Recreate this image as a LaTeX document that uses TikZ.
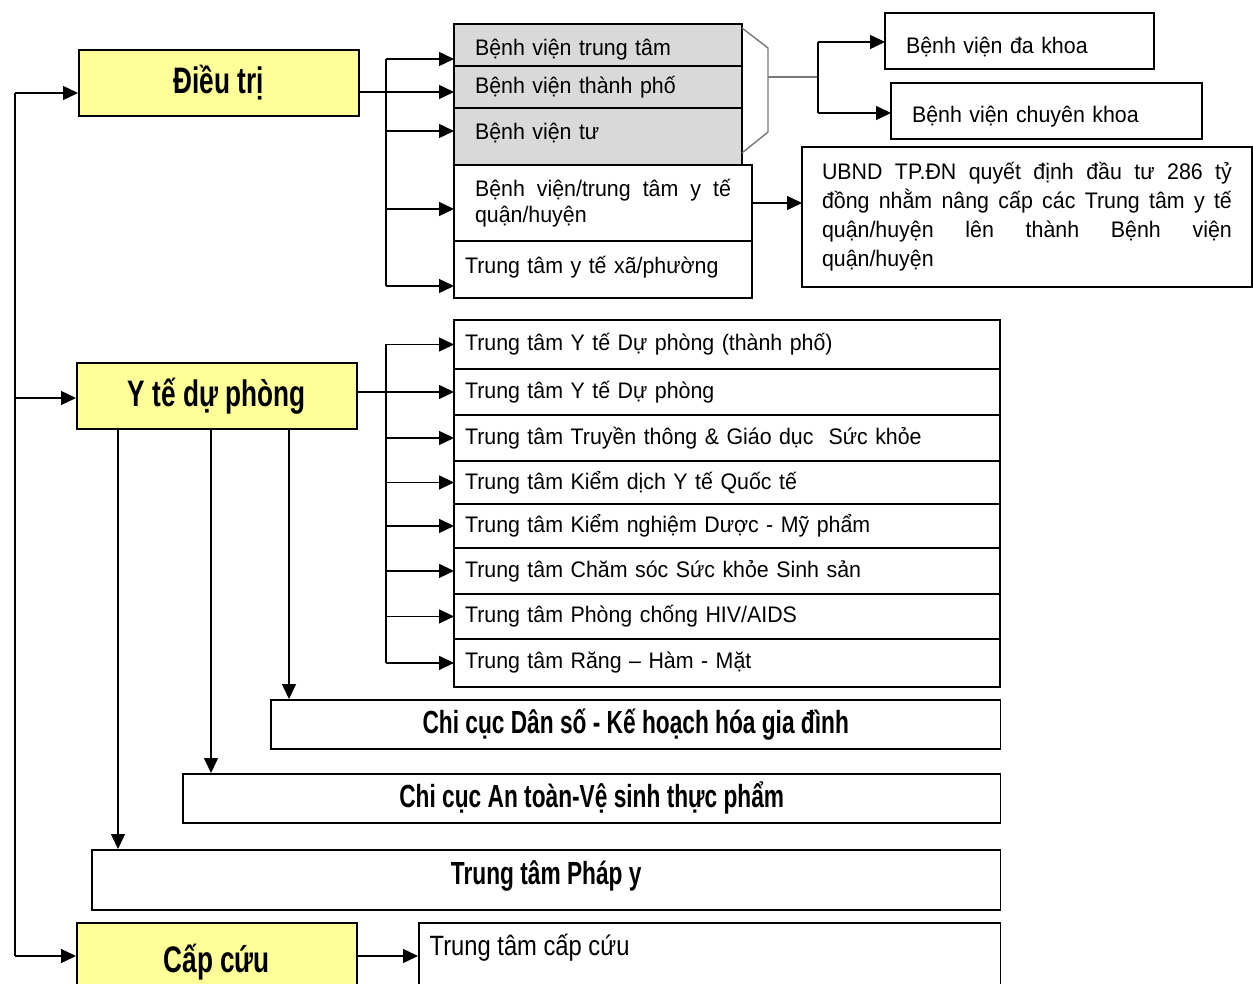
\documentclass[tikz,border=0pt]{standalone}
\usepackage{fontspec}
\setmainfont[FakeStretch=0.95]{Liberation Sans}
\newfontfamily\headfont[FakeStretch=0.71]{Liberation Sans}
\newfontfamily\narrowfont[FakeStretch=0.85]{Liberation Sans}
\usepackage{tikz}
\usetikzlibrary{positioning, arrows.meta}
\usepackage{xcolor}
\definecolor{headYellow}{RGB}{255, 255, 153}
\definecolor{cellGrey}{RGB}{217, 217, 217}
\definecolor{braceGrey}{RGB}{120, 120, 120}
\hyphenpenalty=10000
\exhyphenpenalty=10000

\begin{document}
\begin{tikzpicture}
    [
        x=0.02cm, y=-0.02cm,
        line width=0.8pt,
        arr/.style={-{Triangle[length=0.3cm, width=0.28cm]}},
        head/.style={
            draw, fill=headYellow, line width=0.9pt, anchor=north west,
            minimum width=5.6cm, minimum height=1.32cm,
            font=\headfont\bfseries\fontsize{21}{24}\selectfont
        },
        cell/.style={
            draw, line width=0.9pt, anchor=north west, align=left,
            outer sep=0pt, inner xsep=0.42cm, inner ysep=0pt,
            font=\fontsize{12.8}{15}\selectfont
        },
        row/.style={
            cell, inner xsep=0.22cm, text width=10.48cm
        },
        wide/.style={
            draw, line width=0.9pt, anchor=north west,
            font=\headfont\bfseries\fontsize{18.2}{21}\selectfont
        }
    ]

\useasboundingbox (0,0) rectangle (1253,983);
\clip (0,0) rectangle (1253,983);

% Nodes
\node (dieutri) [head] at (78,49) {Điều trị};

\node (ytdp) [head] at (76,362) {Y tế dự phòng};

\node (capcuu) [head, minimum height=1.56cm] at (76,922) {Cấp cứu};

% Dieu tri
\node (bvtt) [
        cell, fill=cellGrey, text width=4.92cm, minimum height=0.84cm,
        text height=0.5cm
    ] at (454,24) {Bệnh viện trung tâm};

\node (bvtp) [
        cell, fill=cellGrey, text width=4.92cm, minimum height=0.84cm,
        below=0pt of bvtt
    ] {Bệnh viện thành phố};

\node (bvtu) [
        cell, fill=cellGrey, text width=4.92cm, minimum height=1.14cm,
        below=0pt of bvtp, text depth=0.2cm
    ] {Bệnh viện tư};

\node (bvqh) [
        cell, text width=5.12cm, minimum height=1.52cm, align=justify,
        below=0pt of bvtu.south west, anchor=north west
    ] {Bệnh viện/trung tâm y tế\linebreak quận/huyện};

\node (ttxp) [
        cell, inner xsep=0.22cm, text width=5.52cm, minimum height=1.14cm,
        below=0pt of bvqh, text depth=0.2cm
    ] {Trung tâm y tế xã/phường};

\node (bvdk) [
        cell, text width=4.54cm, minimum height=1.12cm, text height=0.55cm
    ] at (885,13) {Bệnh viện đa khoa};

\node (bvck) [
        cell, text width=5.38cm, minimum height=1.12cm, text height=0.55cm
    ] at (891,83) {Bệnh viện chuyên khoa};

\node (ubnd) [
        cell, inner xsep=0.4cm, text width=8.2cm, minimum height=2.8cm,
        align=justify, font=\fontsize{12.8}{16.5}\selectfont
    ] at (802,147) {UBND TP.ĐN quyết định đầu tư 286 tỷ\linebreak
        đồng nhằm nâng cấp các Trung tâm y tế\linebreak
        quận/huyện lên thành Bệnh viện\linebreak quận/huyện};

% Y te du phong
\node (ytdp1) [row, minimum height=0.98cm] at (454,320) {Trung tâm Y tế Dự phòng (thành phố)};

\node (ytdp2) [row, minimum height=0.92cm, below=0pt of ytdp1] {Trung tâm Y tế Dự phòng};

\node (ytdp3) [row, minimum height=0.92cm, below=0pt of ytdp2] {Trung tâm Truyền thông \& Giáo dục\ \ Sức khỏe};

\node (ytdp4) [row, minimum height=0.86cm, below=0pt of ytdp3] {Trung tâm Kiểm dịch Y tế Quốc tế};

\node (ytdp5) [row, minimum height=0.88cm, below=0pt of ytdp4] {Trung tâm Kiểm nghiệm Dược - Mỹ phẩm};

\node (ytdp6) [row, minimum height=0.92cm, below=0pt of ytdp5] {Trung tâm Chăm sóc Sức khỏe Sinh sản};

\node (ytdp7) [row, minimum height=0.90cm, below=0pt of ytdp6] {Trung tâm Phòng chống HIV/AIDS};

\node (ytdp8) [row, minimum height=0.96cm, below=0pt of ytdp7] {Trung tâm Răng – Hàm - Mặt};

\node (dsk) [wide, minimum width=14.6cm, minimum height=0.98cm] at (270,699) {Chi cục Dân số - Kế hoạch hóa gia đình};

\node (attp) [wide, minimum width=16.36cm, minimum height=0.98cm] at (182,773) {Chi cục An toàn-Vệ sinh thực phẩm};

\node (phapy) [
        wide, minimum width=18.18cm, minimum height=1.2cm, text depth=0.3cm
    ] at (91,849) {Trung tâm Pháp y};

% Cap cuu
\node (ttcc) [
        draw, line width=0.9pt, anchor=north west,
        minimum width=11.64cm, minimum height=1.56cm,
        label={[anchor=north west, inner sep=0.22cm,
            font=\narrowfont\fontsize{15.9}{18}\selectfont]north west:Trung tâm cấp cứu}
    ] at (418,922) {};

% Connectors
\coordinate (trunkTop) at (15,93);
\coordinate (trunkMid) at (15,398);
\coordinate (trunkBot) at (15,956);
\draw (trunkTop) -- (trunkBot);
\draw[arr] (trunkTop) -- (dieutri.west |- trunkTop);
\draw[arr] (trunkMid) -- (ytdp.west |- trunkMid);
\draw[arr] (trunkBot) -- (capcuu.west |- trunkBot);

\coordinate (dtBusTop) at (386,59);
\coordinate (dtBusBot) at (386,286);
\draw (dieutri.east |- 0,92) -- (386,92);
\draw (dtBusTop) -- (dtBusBot);
\draw[arr] (dtBusTop) -- (bvtt.west |- dtBusTop);
\draw[arr] (386,92) -- (bvtp.west |- 0,92);
\draw[arr] (386,131) -- (bvtu.west |- 0,131);
\draw[arr] (386,209) -- (bvqh.west |- 0,209);
\draw[arr] (dtBusBot) -- (ttxp.west |- dtBusBot);

\draw[arr] (bvqh.east |- 0,203) -- (ubnd.west |- 0,203);

% bracket round the grey cells
\draw[braceGrey] (742,28) -- (768,48) -- (768,132) -- (742,153);
\draw[braceGrey] (768,77) -- (818,77);
\draw (818,42) -- (818,113);
\draw[arr] (818,42) -- (bvdk.west |- 0,42);
\draw[arr] (818,113) -- (bvck.west |- 0,113);

\draw (ytdp1.west -| 386,0) -- (ytdp8.west -| 386,0);
\draw[arr] (ytdp.east |- ytdp2.west) -- (ytdp2.west);
\draw[arr] (ytdp1.west -| 386,0) -- (ytdp1.west);
\draw[arr] (ytdp3.west -| 386,0) -- (ytdp3.west);
\draw[arr] (ytdp4.west -| 386,0) -- (ytdp4.west);
\draw[arr] (ytdp5.west -| 386,0) -- (ytdp5.west);
\draw[arr] (ytdp6.west -| 386,0) -- (ytdp6.west);
\draw[arr] (ytdp7.west -| 386,0) -- (ytdp7.west);
\draw[arr] (ytdp8.west -| 386,0) -- (ytdp8.west);

\draw[arr] (ytdp.south -| 289,0) -- (dsk.north -| 289,0);
\draw[arr] (ytdp.south -| 211,0) -- (attp.north -| 211,0);
\draw[arr] (ytdp.south -| 118,0) -- (phapy.north -| 118,0);

\draw[arr] (capcuu.east |- trunkBot) -- (ttcc.west |- trunkBot);

\end{tikzpicture}
\end{document}
